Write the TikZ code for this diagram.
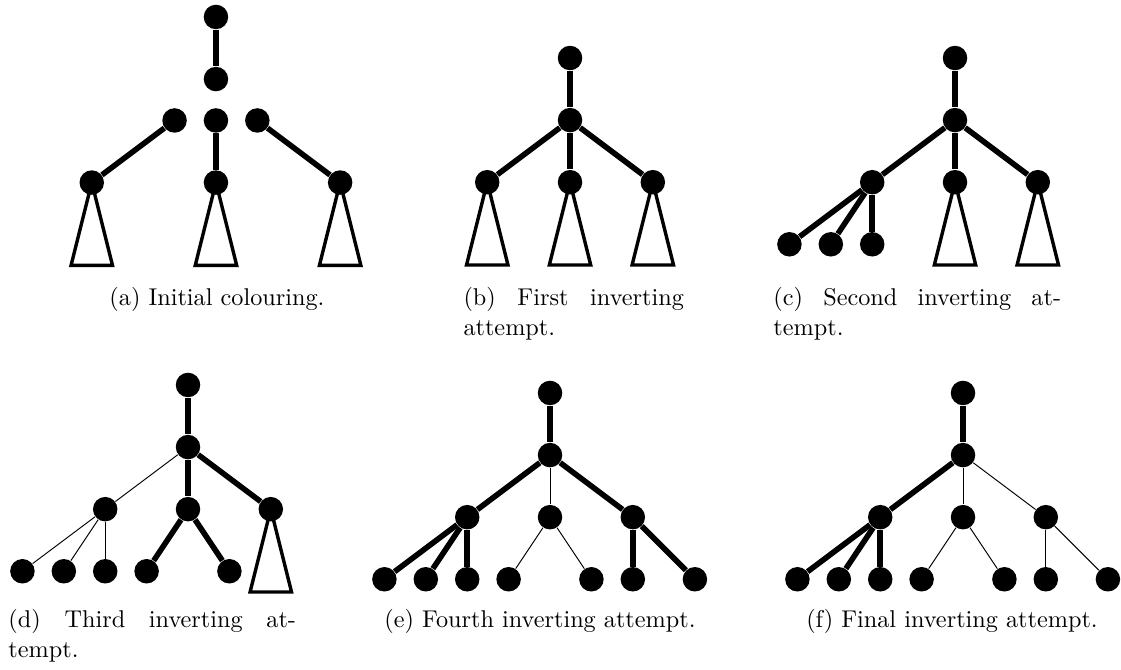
\documentclass[tikz,border=0pt]{standalone}
\usepackage{tikz}
\usetikzlibrary{positioning}
\tolerance=9999

\begin{document}
\begin{tikzpicture}[vertex/.style={fill=black, circle, inner sep=0pt, minimum size=0.355cm, on grid, node distance={0.9cm and 1.2cm}},
			heavy/.style={line width=2.3pt, black},
			light/.style={thin, black},
			subtree/.style={line width=1.4pt, black},
			subcap/.style={inner sep=0pt, anchor=base},
			subcappar/.style={inner sep=0pt, anchor=base west, align=justify}
			]
			\useasboundingbox (0,0) rectangle (16.248,9.711);
			% (a) initial colouring
			\node [vertex](a1) at (3.13,9.465) {};
			\node [vertex](a2) [below=of a1] {};
			\node [vertex](a3) [below left=1.5cm and 0.6cm of a1] {};
			\node [vertex](a4) [below=1.5cm of a1] {};
			\node [vertex](a5) [below right=1.5cm and 0.6cm of a1] {};
			\node [vertex](a6) [below left=0.9cm and 1.2cm of a3] {};
			\node [vertex](a7) [below=of a4] {};
			\node [vertex](a8) [below right=0.9cm and 1.2cm of a5] {};
			\draw[heavy] (a1) -- (a2);
			\draw[heavy] (a3) -- (a6);
			\draw[heavy] (a4) -- (a7);
			\draw[heavy] (a5) -- (a8);
			\draw[subtree] (a6.center) -- ++(-0.3,-1.2) -- ++(0.6,0) -- cycle;
			\draw[subtree] (a7.center) -- ++(-0.3,-1.2) -- ++(0.6,0) -- cycle;
			\draw[subtree] (a8.center) -- ++(-0.3,-1.2) -- ++(0.6,0) -- cycle;
			\node [subcap](capa) at (3.145,5.276) {(a) Initial colouring.};
			% (b) first attempt
			\node [vertex](b1) at (8.262,8.87) {};
			\node [vertex](b2) [below=of b1] {};
			\node [vertex](b3) [below left=of b2] {};
			\node [vertex](b4) [below=of b2] {};
			\node [vertex](b5) [below right=of b2] {};
			\draw[heavy] (b1) -- (b2);
			\draw[heavy] (b2) -- (b3);
			\draw[heavy] (b2) -- (b4);
			\draw[heavy] (b2) -- (b5);
			\draw[subtree] (b3.center) -- ++(-0.3,-1.2) -- ++(0.6,0) -- cycle;
			\draw[subtree] (b4.center) -- ++(-0.3,-1.2) -- ++(0.6,0) -- cycle;
			\draw[subtree] (b5.center) -- ++(-0.3,-1.2) -- ++(0.6,0) -- cycle;
			\node [subcappar, text width=90.9pt](capb) at (6.711,5.276) {(b) First inverting attempt.};
			% (c) second attempt
			\node [vertex](c1) at (13.842,8.87) {};
			\node [vertex](c2) [below=of c1] {};
			\node [vertex](c3) [below left=of c2] {};
			\node [vertex](c4) [below=of c2] {};
			\node [vertex](c5) [below right=of c2] {};
			\node [vertex](c6) [below left=of c3] {};
			\node [vertex](c7) [below left=0.9cm and 0.6cm of c3] {};
			\node [vertex](c8) [below=of c3] {};
			\draw[heavy] (c1) -- (c2);
			\draw[heavy] (c2) -- (c3);
			\draw[heavy] (c2) -- (c4);
			\draw[heavy] (c2) -- (c5);
			\draw[heavy] (c3) -- (c6);
			\draw[heavy] (c3) -- (c7);
			\draw[heavy] (c3) -- (c8);
			\draw[subtree] (c4.center) -- ++(-0.3,-1.2) -- ++(0.6,0) -- cycle;
			\draw[subtree] (c5.center) -- ++(-0.3,-1.2) -- ++(0.6,0) -- cycle;
			\node [subcappar, text width=118.6pt](capc) at (11.204,5.276) {(c) Second inverting attempt.};
			% (d) third attempt
			\node [vertex](d1) at (2.725,4.131) {};
			\node [vertex](d2) [below=of d1] {};
			\node [vertex](d3) [below left=of d2] {};
			\node [vertex](d4) [below=of d2] {};
			\node [vertex](d5) [below right=of d2] {};
			\node [vertex](d6) [below left=of d3] {};
			\node [vertex](d7) [below left=0.9cm and 0.6cm of d3] {};
			\node [vertex](d8) [below=of d3] {};
			\node [vertex](d9) [below left=0.9cm and 0.6cm of d4] {};
			\node [vertex](d10) [below right=0.9cm and 0.6cm of d4] {};
			\draw[heavy] (d1) -- (d2);
			\draw[light] (d2) -- (d3);
			\draw[heavy] (d2) -- (d4);
			\draw[heavy] (d2) -- (d5);
			\draw[light] (d3) -- (d6);
			\draw[light] (d3) -- (d7);
			\draw[light] (d3) -- (d8);
			\draw[heavy] (d4) -- (d9);
			\draw[heavy] (d4) -- (d10);
			\draw[subtree] (d5.center) -- ++(-0.3,-1.2) -- ++(0.6,0) -- cycle;
			\node [subcappar, text width=118.6pt](capd) at (0.116,0.61) {(d) Third inverting attempt.};
			% (e) fourth attempt
			\node [vertex](e1) at (7.972,4.015) {};
			\node [vertex](e2) [below=of e1] {};
			\node [vertex](e3) [below left=of e2] {};
			\node [vertex](e4) [below=of e2] {};
			\node [vertex](e5) [below right=of e2] {};
			\node [vertex](e6) [below left=of e3] {};
			\node [vertex](e7) [below left=0.9cm and 0.6cm of e3] {};
			\node [vertex](e8) [below=of e3] {};
			\node [vertex](e9) [below left=0.9cm and 0.6cm of e4] {};
			\node [vertex](e10) [below right=0.9cm and 0.6cm of e4] {};
			\node [vertex](e11) [below=of e5] {};
			\node [vertex](e12) [below right=0.9cm and 0.9cm of e5] {};
			\draw[heavy] (e1) -- (e2);
			\draw[heavy] (e2) -- (e3);
			\draw[light] (e2) -- (e4);
			\draw[heavy] (e2) -- (e5);
			\draw[heavy] (e3) -- (e6);
			\draw[heavy] (e3) -- (e7);
			\draw[heavy] (e3) -- (e8);
			\draw[light] (e4) -- (e9);
			\draw[light] (e4) -- (e10);
			\draw[heavy] (e5) -- (e11);
			\draw[heavy] (e5) -- (e12);
			\node [subcap](cape) at (7.827,0.61) {(e) Fourth inverting attempt.};
			% (f) final attempt
			\node [vertex](f1) at (13.958,4.015) {};
			\node [vertex](f2) [below=of f1] {};
			\node [vertex](f3) [below left=of f2] {};
			\node [vertex](f4) [below=of f2] {};
			\node [vertex](f5) [below right=of f2] {};
			\node [vertex](f6) [below left=of f3] {};
			\node [vertex](f7) [below left=0.9cm and 0.6cm of f3] {};
			\node [vertex](f8) [below=of f3] {};
			\node [vertex](f9) [below left=0.9cm and 0.6cm of f4] {};
			\node [vertex](f10) [below right=0.9cm and 0.6cm of f4] {};
			\node [vertex](f11) [below=of f5] {};
			\node [vertex](f12) [below right=0.9cm and 0.9cm of f5] {};
			\draw[heavy] (f1) -- (f2);
			\draw[heavy] (f2) -- (f3);
			\draw[light] (f2) -- (f4);
			\draw[light] (f2) -- (f5);
			\draw[heavy] (f3) -- (f6);
			\draw[heavy] (f3) -- (f7);
			\draw[heavy] (f3) -- (f8);
			\draw[light] (f4) -- (f9);
			\draw[light] (f4) -- (f10);
			\draw[light] (f5) -- (f11);
			\draw[light] (f5) -- (f12);
			\node [subcap](capf) at (13.798,0.61) {(f) Final inverting attempt.};
		\end{tikzpicture}
\end{document}
